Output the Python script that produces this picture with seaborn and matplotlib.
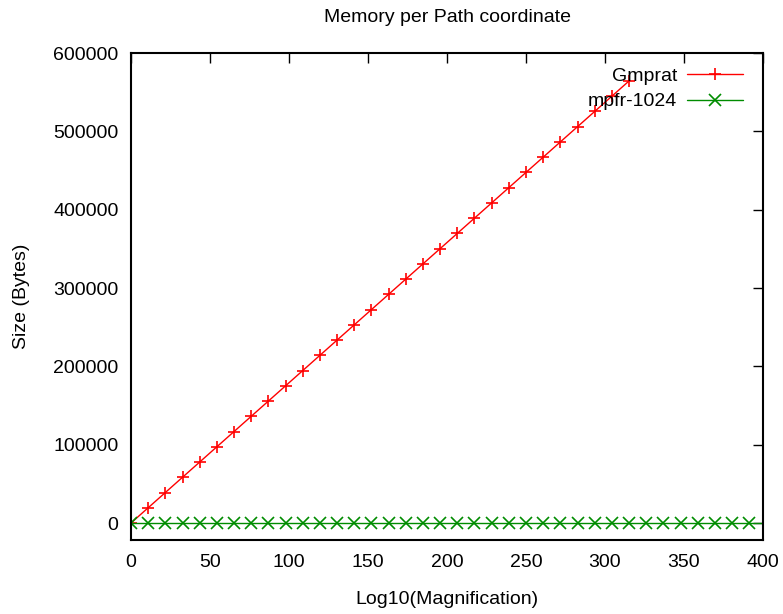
import numpy as np
import pandas as pd
import seaborn as sns
import matplotlib.pyplot as plt

# data
log_mag = [0, 10.87, 21.74, 32.61, 43.48, 54.35, 65.22, 76.09, 86.96, 97.83,
           108.70, 119.57, 130.44, 141.31, 152.18, 163.05, 173.92, 184.79, 195.66, 206.53,
           217.40, 228.27, 239.14, 250.01, 260.88, 271.75, 282.62, 293.49, 304.36, 315.23,
           326.10, 336.97, 347.84, 358.71, 369.58, 380.45, 391.32, 402.19]
gmprat_size = [0, 19460, 38920, 58380, 77840, 97300, 116760, 136220, 155680, 175140,
               194600, 214060, 233520, 252980, 272440, 291900, 311360, 330820, 350280, 369740,
               389200, 408660, 428120, 447580, 467040, 486500, 505960, 525420, 544880, 564340]
mpfr_size = [280] * 38

df = pd.concat([
    pd.DataFrame({'x': log_mag[:len(gmprat_size)], 'y': gmprat_size, 'series': 'Gmprat'}),
    pd.DataFrame({'x': log_mag, 'y': mpfr_size, 'series': 'mpfr-1024'}),
])

sns.set_theme(style='white')
plt.rcParams['font.family'] = ['Liberation Sans', 'DejaVu Sans']
plt.rcParams['font.size'] = 14
plt.rcParams['text.color'] = 'black'
plt.rcParams['axes.labelcolor'] = 'black'
plt.rcParams['xtick.color'] = 'black'
plt.rcParams['ytick.color'] = 'black'

fig = plt.figure(figsize=(7.83, 6.14), dpi=100)
ax = fig.add_axes([131/783, 74/614, 632/783, 487/614])

sns.lineplot(data=df, x='x', y='y', hue='series', style='series',
             palette={'Gmprat': '#ff0000', 'mpfr-1024': '#008c00'},
             markers={'Gmprat': '+', 'mpfr-1024': 'x'}, dashes=False,
             linewidth=1.0, markersize=9, markeredgewidth=1.2, ax=ax)
for ln in ax.lines:
    ln.set_markeredgecolor(ln.get_color())
    # like gnuplot: no point symbol for points outside the x range
    xs = np.asarray(ln.get_xdata(), dtype=float)
    ln.set_markevery([i for i, v in enumerate(xs) if v <= 400])

ax.set_xlim(0, 400)
ax.set_ylim(-21700, 600000)
ax.set_xticks([0, 50, 100, 150, 200, 250, 300, 350, 400])
ax.set_yticks([0, 100000, 200000, 300000, 400000, 500000, 600000])
ax.tick_params(direction='in', length=7, width=1, top=True, right=True,
               labelsize=14, colors='black')
ax.tick_params(axis='x', pad=10)
ax.tick_params(axis='y', pad=9)
for s in ax.spines.values():
    s.set_linewidth(1.5)
    s.set_color('black')

ax.set_title('Memory per Path coordinate', fontsize=14, pad=22, color='black')
ax.set_xlabel('Log10(Magnification)', fontsize=14, va='center')
ax.set_ylabel('Size (Bytes)', fontsize=14, va='center')
ax.xaxis.set_label_coords(0.5, -60/487)
ax.yaxis.set_label_coords(-109/632, 0.5)

handles, labels = ax.get_legend_handles_labels()
for h in handles:
    h.set_markeredgecolor(h.get_color())
ax.legend(handles, labels, loc='upper right', frameon=False, markerfirst=False,
          bbox_to_anchor=(743/783, 1 - 67/614), bbox_transform=fig.transFigure,
          borderpad=0, borderaxespad=0, handlelength=2.9, handletextpad=0.5,
          labelspacing=0.42, fontsize=14)

fig.savefig('out.png', dpi=100)
